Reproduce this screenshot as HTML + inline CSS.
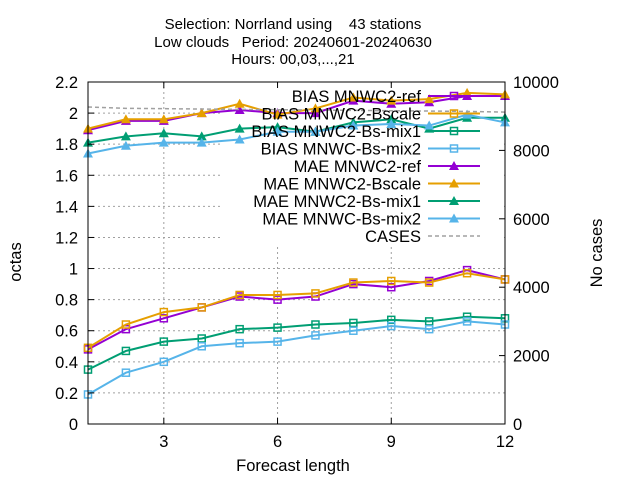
<!DOCTYPE html>
<html><head><meta charset="utf-8"><style>
body{margin:0;background:#fff}
svg{display:block;font-family:"Liberation Sans","DejaVu Sans",sans-serif;font-size:16.5px}
</style></head><body>
<svg id="chart" width="640" height="480" viewBox="0 0 640 480" xmlns="http://www.w3.org/2000/svg">
<g text-anchor="middle" fill="#000" style="font-size:15px">
<text x="293" y="29" xml:space="preserve">Selection: Norrland using    43 stations</text>
<text x="293" y="47" xml:space="preserve">Low clouds   Period: 20240601-20240630</text>
<text x="293" y="64">Hours: 00,03,...,21</text>
</g>
<g id="grid"></g>
<rect x="222" y="87" width="282" height="158" fill="#fff"/>
<g id="series"></g>
<g id="axes"></g>
<g id="legend"></g>
<text x="293" y="471" text-anchor="middle">Forecast length</text>
<text transform="translate(21,262) rotate(-90)" text-anchor="middle">octas</text>
<text transform="translate(602,253) rotate(-90)" text-anchor="middle">No cases</text>
</svg>
<script>
const steps = [1,2,3,4,5,6,7,8,9,10,11,12];
const biasRef = [0.48,0.61,0.68,0.75,0.82,0.80,0.82,0.90,0.88,0.92,0.99,0.93];
const biasBscale = [0.49,0.64,0.72,0.75,0.83,0.83,0.84,0.91,0.92,0.91,0.97,0.93];
const biasMix1 = [0.35,0.47,0.53,0.55,0.61,0.62,0.64,0.65,0.67,0.66,0.69,0.68];
const biasMix2 = [0.19,0.33,0.40,0.50,0.52,0.53,0.57,0.60,0.63,0.61,0.66,0.64];
const maeRef = [1.89,1.95,1.95,2.00,2.02,2.00,2.00,2.08,2.06,2.07,2.11,2.11];
const maeBscale = [1.90,1.96,1.96,2.00,2.06,1.99,2.03,2.10,2.08,2.09,2.13,2.12];
const maeMix1 = [1.81,1.85,1.87,1.85,1.90,1.91,1.88,1.94,1.96,1.90,1.97,1.97];
const maeMix2 = [1.74,1.79,1.81,1.81,1.83,1.88,1.88,1.92,1.93,1.92,1.99,1.94];
const cases = [9270,9230,9220,9210,9200,9190,9180,9170,9160,9150,9140,9120];
const yTicks = [0,0.2,0.4,0.6,0.8,1,1.2,1.4,1.6,1.8,2,2.2];
const yTickLabels = ["0","0.2","0.4","0.6","0.8","1","1.2","1.4","1.6","1.8","2","2.2"];
const y2Ticks = [0,2000,4000,6000,8000,10000];
const xTicks = [3,6,9,12];

const NS="http://www.w3.org/2000/svg";
const L=88,R=505,T=82,B=424;
const sx=v=>L+(v-1)/11*(R-L);
const sy=v=>B-v/2.2*(B-T);
const sy2=v=>B-v/10000*(B-T);
function mk(tag,attrs,parent){const e=document.createElementNS(NS,tag);for(const k in attrs)e.setAttribute(k,attrs[k]);parent.appendChild(e);return e;}
const grid=document.getElementById('grid'),axes=document.getElementById('axes'),ser=document.getElementById('series'),leg=document.getElementById('legend');
yTicks.forEach((t,i)=>{
  if(t>0&&t<2.2){const g=mk('line',{x1:L,x2:R,y1:sy(t),y2:sy(t),stroke:'#a0a0a0','stroke-dasharray':'2,3','stroke-width':1},grid);
  
  }
  mk('line',{x1:L,x2:L+6,y1:sy(t),y2:sy(t),stroke:'#000'},axes);
  const tx=mk('text',{x:L-10,y:sy(t)+6,'text-anchor':'end'},axes);tx.textContent=yTickLabels[i];
  
  
});
y2Ticks.forEach(t=>{
  mk('line',{x1:R-6,x2:R,y1:sy2(t),y2:sy2(t),stroke:'#000'},axes);
  const tx=mk('text',{x:R+8,y:sy2(t)+6,'text-anchor':'start'},axes);tx.textContent=String(t);
  
  
});
xTicks.forEach(t=>{
  if(t<12){const g=mk('line',{x1:sx(t),x2:sx(t),y1:T,y2:B,stroke:'#a0a0a0','stroke-dasharray':'2,3'},grid);
  
  }
  mk('line',{x1:sx(t),x2:sx(t),y1:B,y2:B-6,stroke:'#000'},axes);
  mk('line',{x1:sx(t),x2:sx(t),y1:T,y2:T+6,stroke:'#000'},axes);
  const tx=mk('text',{x:sx(t),y:B+23,'text-anchor':'middle'},axes);tx.textContent=String(t);
  
  
});
const frame=mk('rect',{x:L,y:T,width:R-L,height:B-T,fill:'none',stroke:'#000','stroke-width':1},axes);



function marker(type,x,y,c,parent){
  if(type==='sq') return mk('rect',{x:x-3.5,y:y-3.5,width:7,height:7,fill:'none',stroke:c,'stroke-width':1.5},parent);
  return mk('path',{d:`M${x-5},${y+4}L${x+5},${y+4}L${x},${y-5}Z`,fill:c},parent);
}
const seriesDefs=[
 ['BIAS MNWC2-ref',biasRef,'#9400d3','sq'],
 ['BIAS MNWC2-Bscale',biasBscale,'#e69f00','sq'],
 ['BIAS MNWC2-Bs-mix1',biasMix1,'#009e73','sq'],
 ['BIAS MNWC-Bs-mix2',biasMix2,'#56b4e9','sq'],
 ['MAE MNWC2-ref',maeRef,'#9400d3','tri'],
 ['MAE MNWC2-Bscale',maeBscale,'#e69f00','tri'],
 ['MAE MNWC2-Bs-mix1',maeMix1,'#009e73','tri'],
 ['MAE MNWC-Bs-mix2',maeMix2,'#56b4e9','tri']
];
seriesDefs.forEach((s,i)=>{
  const g=mk('g',{},ser);
  
  
  const pts=s[1].map((v,j)=>sx(steps[j])+','+sy(v)).join(' ');
  mk('polyline',{points:pts,fill:'none',stroke:s[2],'stroke-width':2},g);
  s[1].forEach((v,j)=>{const m=marker(s[3],sx(steps[j]),sy(v),s[2],g);
    
    });
  const ly=96+i*17.5;
  const lt=mk('text',{x:421,y:ly+6,'text-anchor':'end'},leg);lt.textContent=s[0];
  
  
  mk('line',{x1:428,x2:480,y1:ly,y2:ly,stroke:s[2],'stroke-width':2},leg);
  marker(s[3],454,ly,s[2],leg);
});
const cg=mk('polyline',{points:cases.map((v,j)=>sx(steps[j])+','+sy2(v)).join(' '),fill:'none',stroke:'#a0a0a0','stroke-width':1.5,'stroke-dasharray':'4,3'},ser);


const cy=96+8*17.5;
const ct=mk('text',{x:421,y:cy+6,'text-anchor':'end'},leg);ct.textContent='CASES';


mk('line',{x1:428,x2:480,y1:cy,y2:cy,stroke:'#a0a0a0','stroke-width':1.5,'stroke-dasharray':'4,3'},leg);
</script>
</body></html>
